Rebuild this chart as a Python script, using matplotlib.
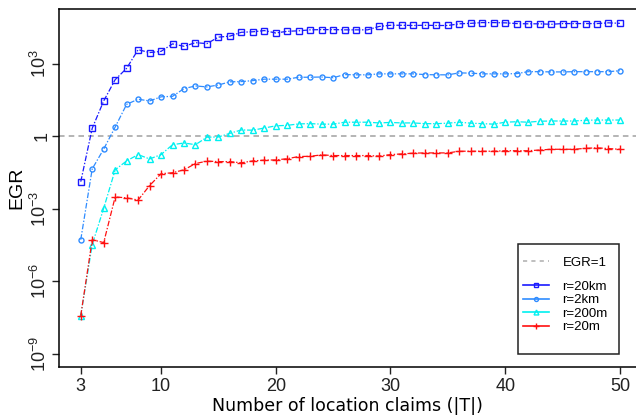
import numpy as np
import matplotlib
matplotlib.use("Agg")
import matplotlib.pyplot as plt
from matplotlib.lines import Line2D
from matplotlib.patches import Rectangle

plt.rcParams['font.family'] = ['Liberation Sans', 'DejaVu Sans']
plt.rcParams['lines.scale_dashes'] = False

# Number of location claims
claims = list(range(3, 51))

# log10(EGR)
log_egr_20km = [-1.88, 0.33, 1.46, 2.34, 2.81, 3.58, 3.46, 3.51, 3.82, 3.72, 3.87, 3.83,
                4.10, 4.14, 4.30, 4.32, 4.37, 4.27, 4.34, 4.36, 4.40, 4.41, 4.41, 4.40,
                4.40, 4.40, 4.54, 4.59, 4.59, 4.58, 4.59, 4.58, 4.58, 4.65, 4.67, 4.70,
                4.70, 4.69, 4.66, 4.65, 4.65, 4.63, 4.66, 4.66, 4.66, 4.66, 4.69, 4.67]
log_egr_2km = [-4.28, -1.35, -0.53, 0.38, 1.32, 1.53, 1.46, 1.63, 1.65, 1.97, 2.08, 2.04,
               2.12, 2.25, 2.26, 2.30, 2.36, 2.36, 2.36, 2.44, 2.44, 2.45, 2.42, 2.55,
               2.54, 2.54, 2.58, 2.58, 2.58, 2.58, 2.55, 2.54, 2.54, 2.62, 2.61, 2.58,
               2.58, 2.58, 2.59, 2.67, 2.67, 2.66, 2.66, 2.67, 2.67, 2.67, 2.67, 2.71]
log_egr_200m = [-7.42, -4.48, -2.98, -1.39, -1.02, -0.76, -0.94, -0.76, -0.35, -0.28, -0.35, -0.04,
                -0.03, 0.12, 0.26, 0.25, 0.34, 0.43, 0.45, 0.51, 0.52, 0.50, 0.50, 0.58,
                0.58, 0.58, 0.55, 0.57, 0.55, 0.55, 0.52, 0.52, 0.54, 0.58, 0.54, 0.52,
                0.50, 0.58, 0.60, 0.58, 0.62, 0.63, 0.63, 0.63, 0.66, 0.67, 0.67, 0.67]
log_egr_20m = [-7.42, -4.28, -4.40, -2.51, -2.55, -2.64, -2.04, -1.55, -1.51, -1.39, -1.13, -1.03,
               -1.05, -1.05, -1.10, -1.02, -0.99, -0.98, -0.93, -0.84, -0.83, -0.77, -0.80, -0.80,
               -0.80, -0.80, -0.82, -0.76, -0.73, -0.70, -0.69, -0.69, -0.69, -0.62, -0.62, -0.62,
               -0.62, -0.60, -0.60, -0.60, -0.57, -0.54, -0.54, -0.54, -0.50, -0.48, -0.51, -0.54]

series_labels = ['r=20km', 'r=2km', 'r=200m', 'r=20m']
series_colors = ['#1a1aff', '#2f8cff', '#00f0f0', '#ff1010']
series_markers = ['s', 'o', '^', '+']
series_msizes = [3.8, 3.6, 4.4, 5.6]

x_ticks = [3, 10, 20, 30, 40, 50]
y_ticks = [1e3, 1, 1e-3, 1e-6, 1e-9]
y_ticklabels = [r'$\mathregular{10^{3}}$', '1', r'$\mathregular{10^{-3}}$',
                r'$\mathregular{10^{-6}}$', r'$\mathregular{10^{-9}}$']

W, H = 636, 415
fig = plt.figure(figsize=(W / 100, H / 100), dpi=100)
ax = fig.add_axes([59.3 / W, 1 - 367 / H, 1 - 59.3 / W, (367 - 9.3) / H])

ax.axhline(1, color='#b4b4b4', lw=1.4, dashes=(4, 3), zorder=1)

all_logs = [log_egr_20km, log_egr_2km, log_egr_200m, log_egr_20m]
handles = []
for lg, lab, col, mk, ms in zip(all_logs, series_labels, series_colors, series_markers, series_msizes):
    vals = 10.0 ** np.array(lg)
    ax.plot(claims, vals, color=col, lw=0.9, dashes=(4, 1.3, 1, 1.3),
            marker=mk, ms=ms, mfc='none', mec=col, mew=1.0, zorder=3)
    handles.append(Line2D([], [], color=col, lw=1.2, marker=mk,
                          ms=ms * 0.8, mfc='none', mec=col, mew=1.0))

ax.set_yscale('log')
ax.set_xlim(1.13, 51.4)
ax.set_ylim(10 ** -9.545, 10 ** 5.25)
ax.minorticks_off()
ax.set_xticks(x_ticks)
ax.set_xticklabels([str(t) for t in x_ticks], fontsize=13)
ax.set_yticks(y_ticks)
ax.set_yticklabels(y_ticklabels, fontsize=13, rotation=90, va='center')
ax.tick_params(direction='out', length=5, width=1, colors='#222222', pad=3)
ax.tick_params(axis='y', pad=1.5)
ax.spines['right'].set_visible(False)
for s in ['left', 'bottom', 'top']:
    ax.spines[s].set_linewidth(1.1)

ax.set_xlabel('Number of location claims (|T|)', family='DejaVu Sans', fontsize=12.5, labelpad=1)
ax.set_ylabel('EGR', fontsize=14)
ax.yaxis.set_label_coords(-0.058, 0.5)

# legend frame
fig.patches.append(Rectangle((517.7 / W, 1 - 354 / H), (619 - 517.7) / W, (354 - 243.7) / H,
                             transform=fig.transFigure, fill=False, edgecolor='#222222', lw=1.1))

egr_handle = Line2D([], [], color='#b4b4b4', lw=1.2, dashes=(3, 3))
leg1 = fig.legend([egr_handle], ['EGR=1'], loc='center left',
                  bbox_to_anchor=(523 / W, 1 - 262.7 / H), frameon=False, fontsize=9.5,
                  handlelength=2.0, handletextpad=1.0, borderpad=0, borderaxespad=0)
leg2 = fig.legend(handles, series_labels, loc='upper left',
                  bbox_to_anchor=(523 / W, 1 - 280.5 / H), frameon=False, fontsize=9.5,
                  handlelength=2.0, handletextpad=1.0, labelspacing=0.1,
                  borderpad=0, borderaxespad=0)

fig.savefig('out.png', dpi=100)
